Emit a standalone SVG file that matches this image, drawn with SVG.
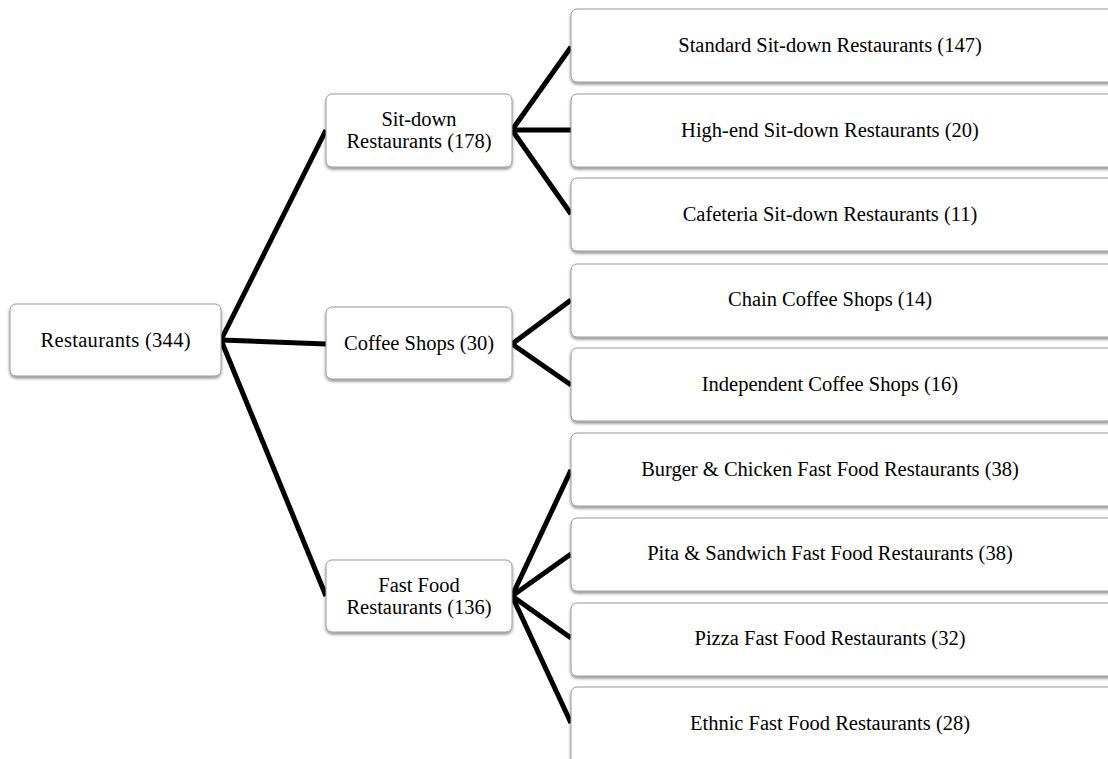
<svg xmlns="http://www.w3.org/2000/svg" width="1108" height="759" viewBox="0 0 1108 759">
<defs>
<filter id="sh" x="-10%" y="-20%" width="120%" height="150%">
<feDropShadow dx="0" dy="2" stdDeviation="1.6" flood-color="#000" flood-opacity="0.45"/>
</filter>
<style>
.box{fill:#fff;stroke:#9a9a9a;stroke-width:1;filter:url(#sh)}
.t{font-family:"Liberation Serif","Times New Roman",serif;font-size:20.5px;fill:#000;text-anchor:middle}
.c{stroke:#000;stroke-width:5;fill:none;stroke-linecap:butt}
</style>
</defs>
<rect width="1108" height="759" fill="#fff"/>
<g id="connectors">
<line class="c" x1="221" y1="340" x2="326" y2="130"/>
<line class="c" x1="221" y1="340" x2="326" y2="344"/>
<line class="c" x1="221" y1="340" x2="326" y2="596"/>
<line class="c" x1="512" y1="130" x2="571" y2="47"/>
<line class="c" x1="512" y1="130" x2="571" y2="130"/>
<line class="c" x1="512" y1="130" x2="571" y2="214"/>
<line class="c" x1="512" y1="344" x2="571" y2="300"/>
<line class="c" x1="512" y1="344" x2="571" y2="385"/>
<line class="c" x1="512" y1="596" x2="571" y2="470"/>
<line class="c" x1="512" y1="596" x2="571" y2="554"/>
<line class="c" x1="512" y1="596" x2="571" y2="638"/>
<line class="c" x1="512" y1="596" x2="571" y2="723"/>
</g>
<g id="root"><rect class="box" x="10" y="304" width="211" height="72" rx="6"/><text class="t" x="115.5" y="347" textLength="150">Restaurants (344)</text></g>
<g id="sitdown"><rect class="box" x="326" y="94" width="186" height="73" rx="6"/><text class="t" x="419" y="126">Sit-down</text><text class="t" x="419" y="148">Restaurants (178)</text></g>
<g id="coffee"><rect class="box" x="326" y="307" width="186" height="72" rx="6"/><text class="t" x="419" y="350">Coffee Shops (30)</text></g>
<g id="fastfood"><rect class="box" x="326" y="560" width="186" height="72" rx="6"/><text class="t" x="419" y="592">Fast Food</text><text class="t" x="419" y="614">Restaurants (136)</text></g>
<g id="standard"><rect class="box" x="571" y="9" width="545" height="73" rx="6"/><text class="t" x="830" y="52">Standard Sit-down Restaurants (147)</text></g>
<g id="highend"><rect class="box" x="571" y="94" width="545" height="73" rx="6"/><text class="t" x="830" y="137">High-end Sit-down Restaurants (20)</text></g>
<g id="cafeteria"><rect class="box" x="571" y="178" width="545" height="73" rx="6"/><text class="t" x="830" y="221">Cafeteria Sit-down Restaurants (11)</text></g>
<g id="chain"><rect class="box" x="571" y="264" width="545" height="73" rx="6"/><text class="t" x="830" y="306">Chain Coffee Shops (14)</text></g>
<g id="independent"><rect class="box" x="571" y="348" width="545" height="73" rx="6"/><text class="t" x="830" y="391">Independent Coffee Shops (16)</text></g>
<g id="burger"><rect class="box" x="571" y="433" width="545" height="73" rx="6"/><text class="t" x="830" y="476">Burger &amp; Chicken Fast Food Restaurants (38)</text></g>
<g id="pita"><rect class="box" x="571" y="518" width="545" height="73" rx="6"/><text class="t" x="830" y="560">Pita &amp; Sandwich Fast Food Restaurants (38)</text></g>
<g id="pizza"><rect class="box" x="571" y="603" width="545" height="73" rx="6"/><text class="t" x="830" y="645">Pizza Fast Food Restaurants (32)</text></g>
<g id="ethnic"><rect class="box" x="571" y="687" width="545" height="80" rx="6"/><text class="t" x="830" y="730">Ethnic Fast Food Restaurants (28)</text></g>
</svg>
